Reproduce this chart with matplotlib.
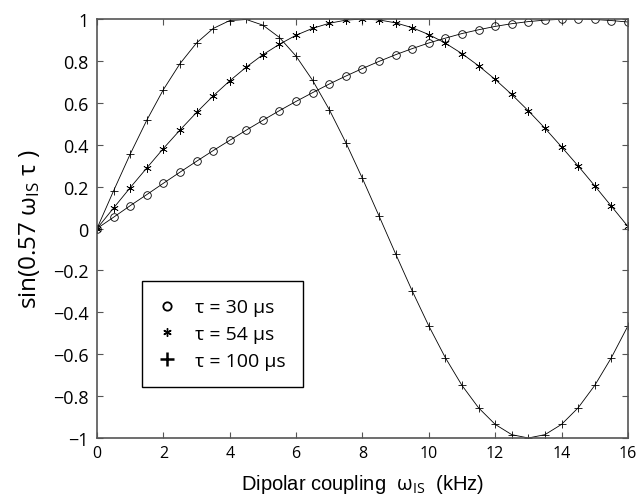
import matplotlib
matplotlib.use("Agg")
import matplotlib.pyplot as plt
from matplotlib.lines import Line2D

plt.rcParams["font.family"] = ["Open Sans", "DejaVu Sans"]
plt.rcParams["mathtext.fontset"] = "custom"
plt.rcParams["mathtext.rm"] = "Open Sans"
plt.rcParams["mathtext.it"] = "Open Sans"
plt.rcParams["axes.unicode_minus"] = True

# dipolar coupling (kHz), one point every 0.5 kHz
coupling = [i * 0.5 for i in range(33)]

tau30 = [0.0, 0.054, 0.109, 0.162, 0.216, 0.269, 0.321, 0.372, 0.421, 0.470,
         0.517, 0.563, 0.607, 0.649, 0.690, 0.728, 0.764, 0.798, 0.830, 0.859,
         0.886, 0.909, 0.931, 0.949, 0.965, 0.978, 0.988, 0.995, 0.999, 1.000,
         0.998, 0.993, 0.986]

tau54 = [0.0, 0.098, 0.195, 0.289, 0.382, 0.470, 0.554, 0.633, 0.705, 0.771,
         0.830, 0.880, 0.923, 0.956, 0.980, 0.995, 1.000, 0.996, 0.982, 0.959,
         0.926, 0.885, 0.835, 0.777, 0.712, 0.640, 0.562, 0.479, 0.390, 0.299,
         0.204, 0.107, 0.010]

tau100 = [0.0, 0.180, 0.355, 0.517, 0.663, 0.787, 0.886, 0.955, 0.993, 0.998,
          0.971, 0.912, 0.823, 0.707, 0.568, 0.410, 0.239, 0.060, -0.121, -0.298,
          -0.465, -0.617, -0.749, -0.856, -0.935, -0.984, -1.000, -0.984, -0.935, -0.856,
          -0.749, -0.617, -0.465]

labels = ["τ = 30 μs", "τ = 54 μs", "τ = 100 μs"]

fig = plt.figure(figsize=(6.44, 5.02), dpi=100)
ax = fig.add_axes([0.1506, 0.1255, 0.8244, 0.8345])

ax.plot(coupling, tau30, color="black", lw=0.6, marker="o", ms=5.5,
        mfc="none", mec="black", mew=0.6)
ax.plot(coupling, tau54, color="black", lw=0.6, marker=(6, 2, 0), ms=6,
        mec="black", mew=0.5)
ax.plot(coupling, tau100, color="black", lw=0.6, marker="+", ms=6,
        mec="black", mew=0.6)

ax.set_xlim(0, 16)
ax.set_ylim(-1, 1)
ax.set_xticks(range(0, 17, 2))
ax.set_yticks([-1, -0.8, -0.6, -0.4, -0.2, 0, 0.2, 0.4, 0.6, 0.8, 1])
ax.set_yticklabels(["−1", "−0.8", "−0.6", "−0.4", "−0.2", "0",
                    "0.2", "0.4", "0.6", "0.8", "1"])

for s in ax.spines.values():
    s.set_color("#555555")
    s.set_linewidth(1.2)

ax.tick_params(direction="in", top=True, right=True, length=4,
               color="#555555", width=0.8)
ax.tick_params(axis="x", labelsize=11.5, pad=5)
ax.tick_params(axis="y", labelsize=13, pad=6)

ax.set_xlabel(r"Dipolar coupling  $\omega_{\rm IS}$  (kHz)", fontsize=14.5,
              family=["Liberation Sans", "DejaVu Sans"], labelpad=8)
ax.set_ylabel(r"sin(0.57 $\omega_{\rm IS}$ $\tau$ )", fontsize=17.5, labelpad=8)

handles = [
    Line2D([], [], ls="none", marker="o", ms=6, mfc="none", mec="black", mew=1.3),
    Line2D([], [], ls="none", marker=(6, 2, 0), ms=6, mec="black", mew=1.0),
    Line2D([], [], ls="none", marker="+", ms=10, mec="black", mew=1.8),
]
leg = ax.legend(handles, labels, loc="upper left", bbox_to_anchor=(0.085, 0.375),
                fontsize=14, frameon=True, fancybox=False, edgecolor="black",
                framealpha=1, handlelength=0.8, handletextpad=1.0,
                borderpad=0.9, labelspacing=0.45, borderaxespad=0)
leg.get_frame().set_linewidth(1.0)

fig.savefig("out.png", dpi=100)
